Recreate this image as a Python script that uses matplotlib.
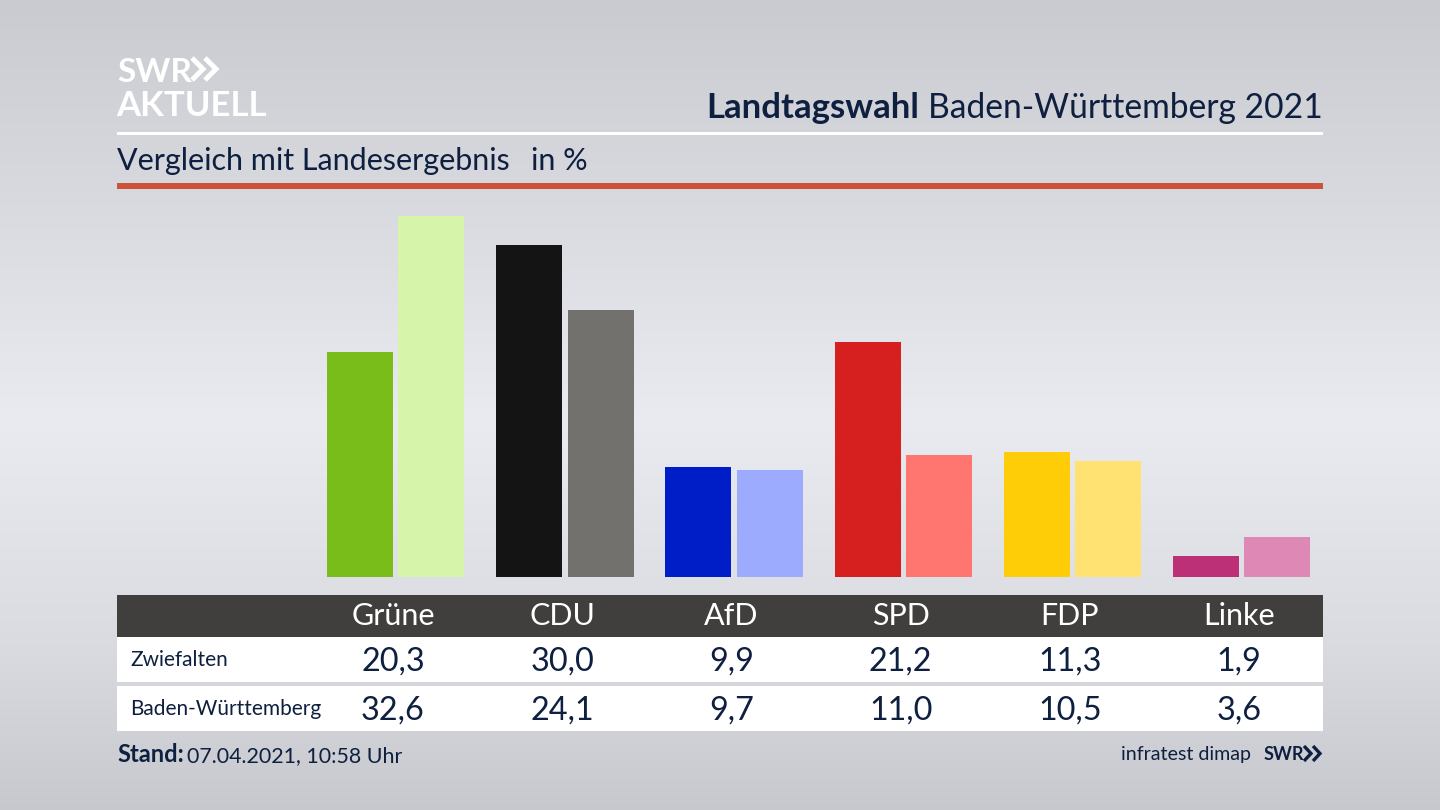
import numpy as np
import matplotlib.pyplot as plt
from matplotlib.patches import Rectangle

plt.rcParams['font.family'] = ['Lato', 'DejaVu Sans']

parties = ["Grüne", "CDU", "AfD", "SPD", "FDP", "Linke"]
zwiefalten = [20.3, 30.0, 9.9, 21.2, 11.3, 1.9]
land = [32.6, 24.1, 9.7, 11.0, 10.5, 3.6]
zwiefalten_labels = ["20,3", "30,0", "9,9", "21,2", "11,3", "1,9"]
land_labels = ["32,6", "24,1", "9,7", "11,0", "10,5", "3,6"]
colors_local = ["#78bd1a", "#141414", "#001ec8", "#d61f1f", "#ffcc08", "#bb3077"]
colors_land = ["#d6f5aa", "#72716e", "#9dabff", "#ff7570", "#ffe272", "#de88b6"]

navy = "#0e1f3f"
fig = plt.figure(figsize=(14.4, 8.1), dpi=100)

# page in pixel coordinates, top left origin
bg = fig.add_axes([0, 0, 1, 1])
bg.set_xlim(0, 1440)
bg.set_ylim(810, 0)
bg.axis("off")
stops_y = [0, 190, 420, 640, 810]
stops_v = [0.800, 0.855, 0.925, 0.865, 0.790]
grad = np.interp(np.arange(810), stops_y, stops_v).reshape(810, 1)
rgb = np.dstack([grad - 0.012, grad - 0.004, grad + 0.015]).clip(0, 1)
bg.imshow(rgb, extent=[0, 1440, 810, 0], aspect="auto", zorder=0)

# logo
bg.text(117, 82, "SWR", color="white", fontsize=24, fontweight="bold", ha="left", va="baseline")
bg.text(116, 116, "AKTUELL", color="white", fontsize=25, fontweight="bold", ha="left", va="baseline")
for x0 in (192, 205):
    bg.plot([x0, x0 + 11, x0], [58, 69, 80], color="white", lw=3.6, solid_joinstyle="miter", solid_capstyle="butt")

# header
bg.add_patch(Rectangle((117, 132), 1206, 3, color="white", lw=0))
bg.add_patch(Rectangle((117, 183), 1206, 6, color="#cc533a", lw=0))
t = bg.text(1323, 118, "Baden-Württemberg 2021", color=navy, fontsize=24.2, ha="right", va="baseline")
r = fig.canvas.get_renderer()
ext = t.get_window_extent(r)
bg.text(ext.x0 - 9, 118, "Landtagswahl", color=navy, fontsize=25, fontweight="bold", ha="right", va="baseline")
bg.text(117, 170, "Vergleich mit Landesergebnis", color=navy, fontsize=22, ha="left", va="baseline")
bg.text(531, 170, "in %", color=navy, fontsize=22, ha="left", va="baseline")

# table
bg.add_patch(Rectangle((117, 595), 1206, 42, color="#403f3d", lw=0))
bg.add_patch(Rectangle((117, 637), 1206, 45, color="white", lw=0))
bg.add_patch(Rectangle((117, 686), 1206, 45, color="white", lw=0))
bg.text(130, 666, "Zwiefalten", color=navy, fontsize=15, ha="left", va="baseline")
bg.text(130, 715, "Baden-Württemberg", color=navy, fontsize=15, ha="left", va="baseline")

# bars, one x unit is the group spacing
px_per_group = 169.2
px_per_pct = 11.08
first_center = 393
ax = fig.add_axes([117 / 1440, (810 - 577) / 810, 1206 / 1440, 382 / 810])
ax.set_xlim((117 - first_center) / px_per_group, (1323 - first_center) / px_per_group)
ax.set_ylim(0, 382 / px_per_pct)
ax.axis("off")
ax.patch.set_alpha(0)
x = np.arange(len(parties))
w = 66 / px_per_group
gap = 5.4 / px_per_group
ax.bar(x - w / 2, zwiefalten, width=w, color=colors_local)
ax.bar(x + gap + w / 2, land, width=w, color=colors_land)

for i, name in enumerate(parties):
    cx = first_center + i * px_per_group
    bg.text(cx, 625, name, color="white", fontsize=22, ha="center", va="baseline")
    bg.text(cx, 671, zwiefalten_labels[i], color=navy, fontsize=23.3, ha="center", va="baseline")
    bg.text(cx, 720, land_labels[i], color=navy, fontsize=23.3, ha="center", va="baseline")

# footer
bg.text(117, 762, "Stand:", color=navy, fontsize=17, fontweight="bold", ha="left", va="baseline")
bg.text(187, 762, "07.04.2021, 10:58 Uhr", color=navy, fontsize=15.4, ha="left", va="baseline")
bg.text(1251, 760, "infratest dimap", color=navy, fontsize=14.1, ha="right", va="baseline")
bg.text(1264, 760, "SWR", color=navy, fontsize=13, fontweight="bold", ha="left", va="baseline")
for x0 in (1304, 1313):
    bg.plot([x0, x0 + 7, x0], [746, 753.5, 761], color=navy, lw=2.4, solid_joinstyle="miter", solid_capstyle="butt")

bg.set_xlim(0, 1440)
bg.set_ylim(810, 0)
fig.savefig("out.png", dpi=100)
